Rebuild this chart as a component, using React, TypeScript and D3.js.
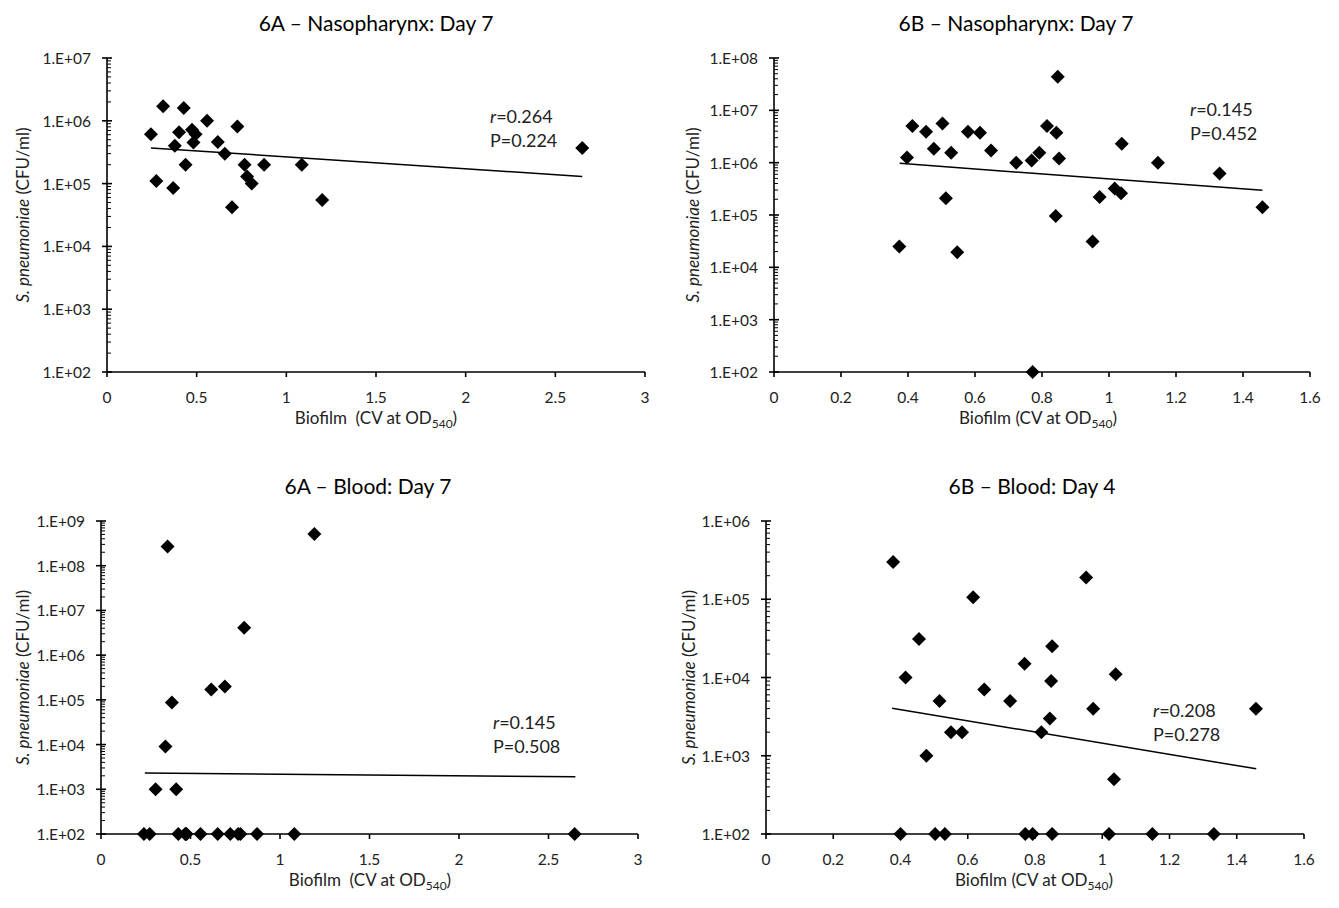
import React, { useEffect } from 'react';
import * as d3 from 'd3';

// ---------- DATA ----------
const nasoA_biofilm = [0.245, 0.275, 0.313, 0.369, 0.378, 0.402, 0.428, 0.438, 0.474, 0.482, 0.494, 0.558, 0.618, 0.657, 0.697, 0.727, 0.767, 0.781, 0.807, 0.876, 1.086, 1.2, 2.65];
const nasoA_cfu = [6.1e5, 1.1e5, 1.7e6, 8.5e4, 4.0e5, 6.6e5, 1.6e6, 2.0e5, 7.2e5, 4.5e5, 6.1e5, 1.0e6, 4.6e5, 3.0e5, 4.2e4, 8.1e5, 2.0e5, 1.3e5, 1.0e5, 2.0e5, 2.0e5, 5.5e4, 3.7e5];

const bloodA_biofilm = [0.24, 0.272, 0.305, 0.36, 0.372, 0.396, 0.42, 0.432, 0.47, 0.474, 0.478, 0.556, 0.616, 0.652, 0.692, 0.722, 0.766, 0.779, 0.8, 0.872, 1.08, 1.192, 2.646];
const bloodA_cfu = [1e2, 1e2, 1e3, 9e3, 2.7e8, 8.7e4, 1e3, 1e2, 1e2, 1e2, 1e2, 1e2, 1.7e5, 1e2, 2e5, 1e2, 1e2, 1e2, 4.1e6, 1e2, 1e2, 5.1e8, 1e2];

const nasoB_biofilm = [0.374, 0.397, 0.413, 0.454, 0.477, 0.503, 0.513, 0.529, 0.547, 0.579, 0.615, 0.648, 0.723, 0.769, 0.772, 0.792, 0.815, 0.841, 0.843, 0.847, 0.851, 0.951, 0.972, 1.017, 1.036, 1.038, 1.146, 1.33, 1.458];
const nasoB_cfu = [2.5e4, 1.25e6, 5.0e6, 3.9e6, 1.85e6, 5.6e6, 2.1e5, 1.55e6, 1.95e4, 3.9e6, 3.75e6, 1.7e6, 1.0e6, 1.1e6, 1e2, 1.55e6, 5.0e6, 9.6e4, 3.75e6, 4.4e7, 1.2e6, 3.1e4, 2.2e5, 3.2e5, 2.6e5, 2.3e6, 1.0e6, 6.2e5, 1.4e5];

const bloodB_biofilm = [0.378, 0.4, 0.415, 0.455, 0.477, 0.503, 0.516, 0.532, 0.55, 0.583, 0.616, 0.649, 0.726, 0.769, 0.771, 0.793, 0.819, 0.844, 0.848, 0.851, 0.851, 0.952, 0.973, 1.02, 1.035, 1.04, 1.149, 1.332, 1.457];
const bloodB_cfu = [3.0e5, 1e2, 1e4, 3.1e4, 1e3, 1e2, 5e3, 1e2, 2e3, 2e3, 1.06e5, 7e3, 5e3, 1.5e4, 1e2, 1e2, 2e3, 3e3, 9e3, 2.5e4, 1e2, 1.9e5, 4e3, 1e2, 5e2, 1.1e4, 1e2, 1e2, 4e3];

// trend lines (endpoints)
const trendA_biofilm = [0.245, 2.65];
const nasoA_trend = [3.7e5, 1.3e5];
const bloodA_trend = [2.3e3, 1.9e3];
const trendB_biofilm = [0.375, 1.458];
const nasoB_trend = [9.7e5, 2.97e5];
const bloodB_trend = [4.05e3, 6.8e2];

const r_values = ['0.264', '0.145', '0.145', '0.208'];
const p_values = ['0.224', '0.452', '0.508', '0.278'];
const titles = ['6A \u2013 Nasopharynx: Day 7', '6B \u2013 Nasopharynx: Day 7', '6A \u2013 Blood: Day 7', '6B \u2013 Blood: Day 4'];

const xTicksA = [0, 0.5, 1, 1.5, 2, 2.5, 3];
const xTicksB = [0, 0.2, 0.4, 0.6, 0.8, 1, 1.2, 1.4, 1.6];
const yExpNasoA = [2, 7];
const yExpNasoB = [2, 8];
const yExpBloodA = [2, 9];
const yExpBloodB = [2, 6];

// ---------- LAYOUT ----------
const FONT = "Lato, 'Open Sans', sans-serif";

type Layout = {
  x0: number; x1: number; yTop: number; yBot: number;
  titleX: number; titleY: number; xTitleX: number; xTitleY: number;
  yTitleX: number; annX: number; annY: number; dbl: boolean;
};

const layouts: Layout[] = [
  { x0: 107, x1: 645, yTop: 58, yBot: 372, titleX: 376, titleY: 22, xTitleX: 376, xTitleY: 424, yTitleX: 22, annX: 490, annY: 116, dbl: true },
  { x0: 774, x1: 1310, yTop: 58, yBot: 372, titleX: 1016, titleY: 22, xTitleX: 1038, xTitleY: 424, yTitleX: 692, annX: 1190, annY: 109, dbl: false },
  { x0: 101, x1: 638, yTop: 521, yBot: 834, titleX: 368, titleY: 485, xTitleX: 370, xTitleY: 886, yTitleX: 22, annX: 493, annY: 722, dbl: true },
  { x0: 766, x1: 1304, yTop: 521, yBot: 834, titleX: 1032, titleY: 485, xTitleX: 1034, xTitleY: 886, yTitleX: 688, annX: 1153, annY: 710, dbl: false },
];

type PanelData = {
  xs: number[]; ys: number[]; tx: number[]; ty: number[];
  xTicks: number[]; yExp: number[]; r: string; p: string; title: string;
};

const panels: PanelData[] = [
  { xs: nasoA_biofilm, ys: nasoA_cfu, tx: trendA_biofilm, ty: nasoA_trend, xTicks: xTicksA, yExp: yExpNasoA, r: r_values[0], p: p_values[0], title: titles[0] },
  { xs: nasoB_biofilm, ys: nasoB_cfu, tx: trendB_biofilm, ty: nasoB_trend, xTicks: xTicksB, yExp: yExpNasoB, r: r_values[1], p: p_values[1], title: titles[1] },
  { xs: bloodA_biofilm, ys: bloodA_cfu, tx: trendA_biofilm, ty: bloodA_trend, xTicks: xTicksA, yExp: yExpBloodA, r: r_values[2], p: p_values[2], title: titles[2] },
  { xs: bloodB_biofilm, ys: bloodB_cfu, tx: trendB_biofilm, ty: bloodB_trend, xTicks: xTicksB, yExp: yExpBloodB, r: r_values[3], p: p_values[3], title: titles[3] },
];

const fmtX = d3.format('~g');
const fmtY = (e: number) => `1.E+${e < 10 ? '0' + e : e}`;
const D = 7; // diamond half-diagonal

function Panel({ d, L }: { d: PanelData; L: Layout }) {
  const xMax = d.xTicks[d.xTicks.length - 1];
  const x = d3.scaleLinear().domain([0, xMax]).range([L.x0, L.x1]);
  const y = d3.scaleLog().domain([Math.pow(10, d.yExp[0]), Math.pow(10, d.yExp[1])]).range([L.yBot, L.yTop]);
  const exps = d3.range(d.yExp[0], d.yExp[1] + 1);
  const minors: number[] = [];
  exps.slice(0, -1).forEach((e) => {
    for (let m = 2; m <= 9; m++) minors.push(m * Math.pow(10, e));
  });
  const line = d3.line<number>().x((_, i) => x(d.tx[i])).y((v) => y(v));
  const diamond = `M0,${-D}L${D},0L0,${D}L${-D},0Z`;
  const cy = (L.yTop + L.yBot) / 2;
  return (
    <g fontFamily={FONT} fill="#000">
      <text x={L.titleX} y={L.titleY} textAnchor="middle" dominantBaseline="central" fontSize={21}>{d.title}</text>
      <line x1={L.x0} x2={L.x0} y1={L.yTop} y2={L.yBot} stroke="#000" strokeWidth={1.6} />
      {minors.map((v, i) => (
        <line key={'m' + i} x1={L.x0} x2={L.x0 + 4} y1={y(v)} y2={y(v)} stroke="#000" strokeWidth={1} />
      ))}
      {exps.map((e) => (
        <g key={'e' + e}>
          <line x1={L.x0 - 5} x2={L.x0 + 5} y1={y(Math.pow(10, e))} y2={y(Math.pow(10, e))} stroke="#000" strokeWidth={1.6} />
          <text x={L.x0 - 16} y={y(Math.pow(10, e))} textAnchor="end" dominantBaseline="central" fontSize={15.5} fill="#222">{fmtY(e)}</text>
        </g>
      ))}
      <line x1={L.x0} x2={L.x1} y1={L.yBot} y2={L.yBot} stroke="#000" strokeWidth={1.6} />
      {d.xTicks.map((t) => (
        <g key={'x' + t}>
          <line x1={x(t)} x2={x(t)} y1={L.yBot} y2={L.yBot + 5} stroke="#000" strokeWidth={1.6} />
          <text x={x(t)} y={L.yBot + 25} textAnchor="middle" dominantBaseline="central" fontSize={15.5} fill="#222">{fmtX(t)}</text>
        </g>
      ))}
      <text x={L.xTitleX} y={L.xTitleY} textAnchor="middle" fontSize={17} fill="#222" style={{ whiteSpace: 'pre' }}>
        <tspan>{L.dbl ? 'Biofilm\u00a0 (CV at OD' : 'Biofilm (CV at OD'}</tspan>
        <tspan fontSize={12} dy={4}>540</tspan>
        <tspan dy={-4}>)</tspan>
      </text>
      <text transform={`translate(${L.yTitleX},${cy}) rotate(-90)`} textAnchor="middle" dominantBaseline="central" fontSize={17} fill="#222">
        <tspan fontStyle="italic">S. pneumoniae</tspan>
        <tspan> (CFU/ml)</tspan>
      </text>
      <path d={line(d.ty) || ''} fill="none" stroke="#000" strokeWidth={1.5} />
      {d.xs.map((v, i) => (
        <path key={'p' + i} d={diamond} transform={`translate(${x(v)},${y(d.ys[i])})`} fill="#000" />
      ))}
      <text x={L.annX} y={L.annY} dominantBaseline="central" fontSize={18} fill="#222">
        <tspan fontStyle="italic">r</tspan>
        <tspan>{'=' + d.r}</tspan>
      </text>
      <text x={L.annX} y={L.annY + 24} dominantBaseline="central" fontSize={18} fill="#222">{'P=' + d.p}</text>
    </g>
  );
}

export default function App() {
  useEffect(() => {
    document.body.style.margin = '0';
  }, []);
  return (
    <svg width={1339} height={908} style={{ position: 'absolute', left: 0, top: 0, background: '#fff' }}>
      <rect width={1339} height={908} fill="#fff" />
      {panels.map((d, i) => (
        <Panel key={i} d={d} L={layouts[i]} />
      ))}
    </svg>
  );
}
